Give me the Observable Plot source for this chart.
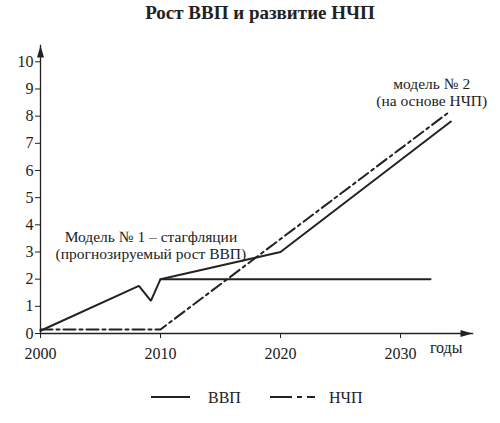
<!DOCTYPE html>
<html><head><meta charset="utf-8">
<script src="https://cdn.jsdelivr.net/npm/d3@7"></script>
<script src="https://cdn.jsdelivr.net/npm/@observablehq/plot@0.6"></script>
<style>
body{margin:0;background:#fff;color:#222;font-family:Liberation Serif;}
#wrap{position:relative;width:500px;height:423px;overflow:hidden;font-family:Liberation Serif;}
#wrap svg, #wrap svg text, #wrap svg g{font-family:Liberation Serif;}
.ttl{position:absolute;left:20px;width:480px;top:2px;text-align:center;font-weight:bold;font-size:19px;font-family:Liberation Serif;}
#chart{position:absolute;left:0;top:36px;}
#legend{position:absolute;left:0;top:386px;width:500px;height:24px;}
</style></head>
<body><div id="wrap"><div class="ttl">Рост ВВП и развитие НЧП</div><div id="chart"></div><div id="legend"></div></div>
<script>
// data
const gdpYears = [2000, 2008.2, 2009.2, 2010, 2020, 2034.2];
const gdp      = [0.1, 1.75, 1.2, 2.0, 3.0, 7.8];
const stagYears = [2010, 2032.5];
const stag      = [2.0, 2.0];
const ncpYears = [2000, 2010, 2033.9];
const ncp      = [0.15, 0.15, 8.1];
const xTicks = [2000, 2010, 2020, 2030];
const yTicks = [0,1,2,3,4,5,6,7,8,9,10];
const noteText = ["Модель № 1 – стагфляции\n(прогнозируемый рост ВВП)", "модель № 2\n(на основе НЧП)"];
const noteX = [2009.2, 2032.6];
const noteY = [3.25, 8.88];
const axisTitle = "годы";
const seriesNames = ["ВВП", "НЧП"];

const ink = "#222";
const dashDot = "12,4,3,4";
const arrowUp = {draw(ctx){ctx.moveTo(0,0);ctx.lineTo(3.5,12);ctx.lineTo(-3.5,12);ctx.closePath();}};

const chart = Plot.plot({
  width: 500, height: 340,
  marginLeft: 40, marginRight: 28, marginTop: 9, marginBottom: 43,
  x: {domain: [2000, 2036]},
  y: {domain: [0, 10.6]},
  style: "font-family:Liberation Serif;font-size:16px;color:#222;background:white",
  marks: [
    Plot.frame({anchor: "left", stroke: ink, strokeWidth: 1.3}),
    Plot.frame({anchor: "bottom", stroke: ink, strokeWidth: 1.3}),
    Plot.dot([0], {frameAnchor: "top-left", symbol: arrowUp, r: 4, fill: ink, stroke: "none"}),
    Plot.dot([0], {frameAnchor: "bottom-right", symbol: arrowUp, r: 4, fill: ink, stroke: "none", rotate: 90}),
    Plot.axisY({ticks: yTicks, tickSize: 5, tickPadding: 2, label: null, fontSize: 16, stroke: ink, fill: ink}),
    Plot.axisX({ticks: xTicks, tickSize: 5, tickPadding: 9, tickFormat: "d", label: null, fontSize: 16, stroke: ink, fill: ink}),
    Plot.text([axisTitle], {frameAnchor: "bottom-right", text: d => d, dx: -10, dy: 19, fontSize: 16, fill: ink}),
    Plot.line(ncpYears, {x: ncpYears, y: ncp, stroke: ink, strokeWidth: 2, strokeDasharray: dashDot}),
    Plot.line(stagYears, {x: stagYears, y: stag, stroke: ink, strokeWidth: 2}),
    Plot.line(gdpYears, {x: gdpYears, y: gdp, stroke: ink, strokeWidth: 2, strokeLinejoin: "miter"}),
    Plot.text(noteText, {x: noteX, y: noteY, text: d => d, fontSize: 15.5, lineHeight: 1.05, fill: ink})
  ]
});
document.getElementById("chart").append(chart);

// legend
const lg = document.getElementById("legend");
lg.innerHTML = `<svg width="500" height="24">
<line x1="151" x2="190" y1="11" y2="11" stroke="${ink}" stroke-width="2"/>
<text x="208" y="16.5" font-size="16" fill="${ink}">${seriesNames[0]}</text>
<line x1="270" x2="315" y1="11" y2="11" stroke="${ink}" stroke-width="2" stroke-dasharray="22,5,5,5,8"/>
<text x="329" y="16.5" font-size="16" fill="${ink}">${seriesNames[1]}</text>
</svg>`;
</script></body></html>
